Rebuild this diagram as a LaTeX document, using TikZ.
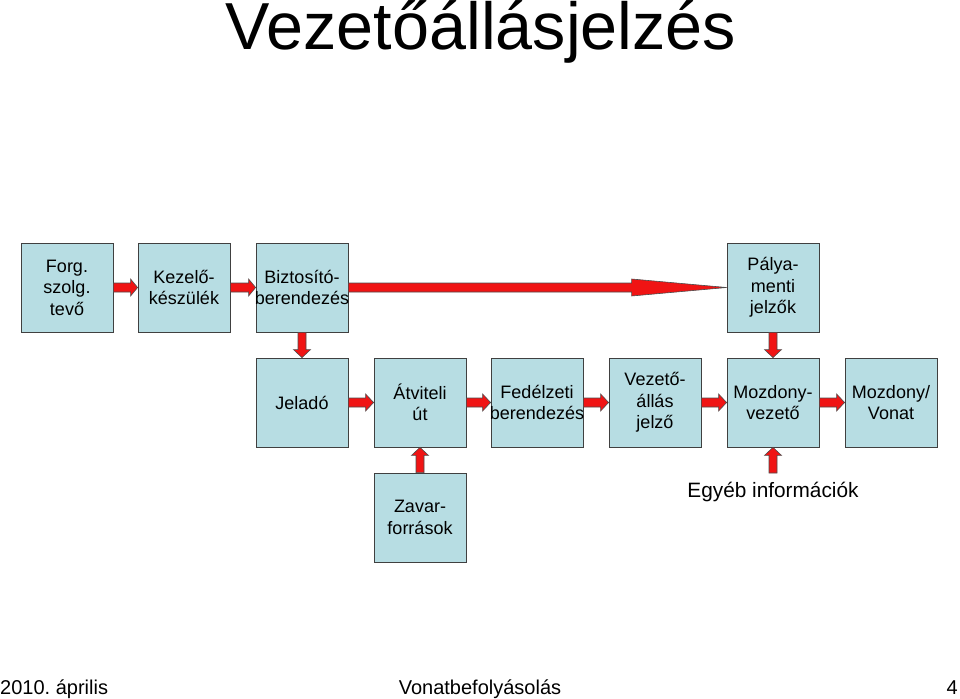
\documentclass[tikz,border=0pt]{standalone}
\usepackage{fontspec}
\setmainfont{Liberation Sans}
\usepackage{tikz}
\usetikzlibrary{calc}
\definecolor{boxfill}{RGB}{183,221,227}
\definecolor{arrowred}{RGB}{240,20,20}

% block arrows (horizontal and vertical), from one anchor to another
\newcommand{\harrow}[3]{% from, to, head length
  \filldraw[blockarrow] ($(#1)+(0,-4.5)$) -- ($(#2)+(-#3,-4.5)$) -- ($(#2)+(-#3,-8.5)$) -- (#2)
    -- ($(#2)+(-#3,8.5)$) -- ($(#2)+(-#3,4.5)$) -- ($(#1)+(0,4.5)$) -- cycle;}
\newcommand{\varrow}[3]{% from, to, head length (signed)
  \filldraw[blockarrow] ($(#1)+(-4,0)$) -- ($(#2)+(-4,-#3)$) -- ($(#2)+(-8.5,-#3)$) -- (#2)
    -- ($(#2)+(8.5,-#3)$) -- ($(#2)+(4,-#3)$) -- ($(#1)+(4,0)$) -- cycle;}
% a line that may stick out of the box on both sides
\newcommand{\wideline}[1]{\makebox[86bp]{#1}}

\begin{document}
\begin{tikzpicture}[x=1bp, y=-1bp,
    block/.style={draw=black!75, thick, fill=boxfill, minimum width=92bp, minimum height=89bp,
                  inner sep=0pt, align=center, font=\fontsize{18bp}{21.5bp}\selectfont},
    blockarrow/.style={fill=arrowred, draw=black!70, line width=0.6bp, line join=miter}]

    \useasboundingbox (0,0) rectangle (960,699);

    % --- title ---
    \node[anchor=base, font=\fontsize{66.5bp}{70bp}\selectfont, inner sep=0pt] (title) at (481,50) {Vezetőállásjelzés};

    % --- top row ---
    \node[block] (forg) at (67,287.5) {Forg.\\ szolg.\\ tevő};
    \node[block] (kezelo) at (184,287.5) {Kezelő-\\ készülék};
    \node[block] (bizt) at (302,287.5) {Biztosító-\\ \wideline{berendezés}};
    \node[block] (palya) at (773,287.5) {Pálya-\\ menti\\ jelzők};

    % --- middle row ---
    \node[block] (jelado) at (302,402.5) {Jeladó};
    \node[block] (atviteli) at (420,402.5) {Átviteli\\ út};
    \node[block] (fedelzeti) at (537,402.5) {Fedélzeti\\ \wideline{berendezés}};
    \node[block] (vezeto) at (655,402.5) {Vezető-\\ állás\\ jelző};
    \node[block] (mozdvez) at (773,402.5) {Mozdony-\\ vezető};
    \node[block] (vonat) at (891,402.5) {Mozdony/\\ Vonat};

    % --- bottom row ---
    \node[block] (zavar) at (420,517.5) {Zavar-\\ források};
    \node[font=\fontsize{20.8bp}{24bp}\selectfont, inner sep=0pt] (egyeb) at (773,492) {Egyéb információk};
    \coordinate (egyebtop) at (773,473);

    % --- arrows ---
    \harrow{forg.east}{kezelo.west}{7}
    \harrow{kezelo.east}{bizt.west}{7}
    \harrow{bizt.east}{palya.west}{95}
    \harrow{jelado.east}{atviteli.west}{8}
    \harrow{atviteli.east}{fedelzeti.west}{8}
    \harrow{fedelzeti.east}{vezeto.west}{8}
    \harrow{vezeto.east}{mozdvez.west}{8}
    \harrow{mozdvez.east}{vonat.west}{8}
    \varrow{bizt.south}{jelado.north}{8}
    \varrow{palya.south}{mozdvez.north}{8}
    \varrow{zavar.north}{atviteli.south}{-8}
    \varrow{egyebtop}{mozdvez.south}{-8}

    % --- footer ---
    \node[anchor=base west, inner sep=0pt, font=\fontsize{20bp}{24bp}\selectfont] (datum) at (0,694) {2010.\ április};
    \node[anchor=base, inner sep=0pt, font=\fontsize{20bp}{24bp}\selectfont] (tema) at (480,694) {Vonatbefolyásolás};
    \node[anchor=base east, inner sep=0pt, font=\fontsize{20bp}{24bp}\selectfont] (oldal) at (958,694) {4};

\end{tikzpicture}
\end{document}
